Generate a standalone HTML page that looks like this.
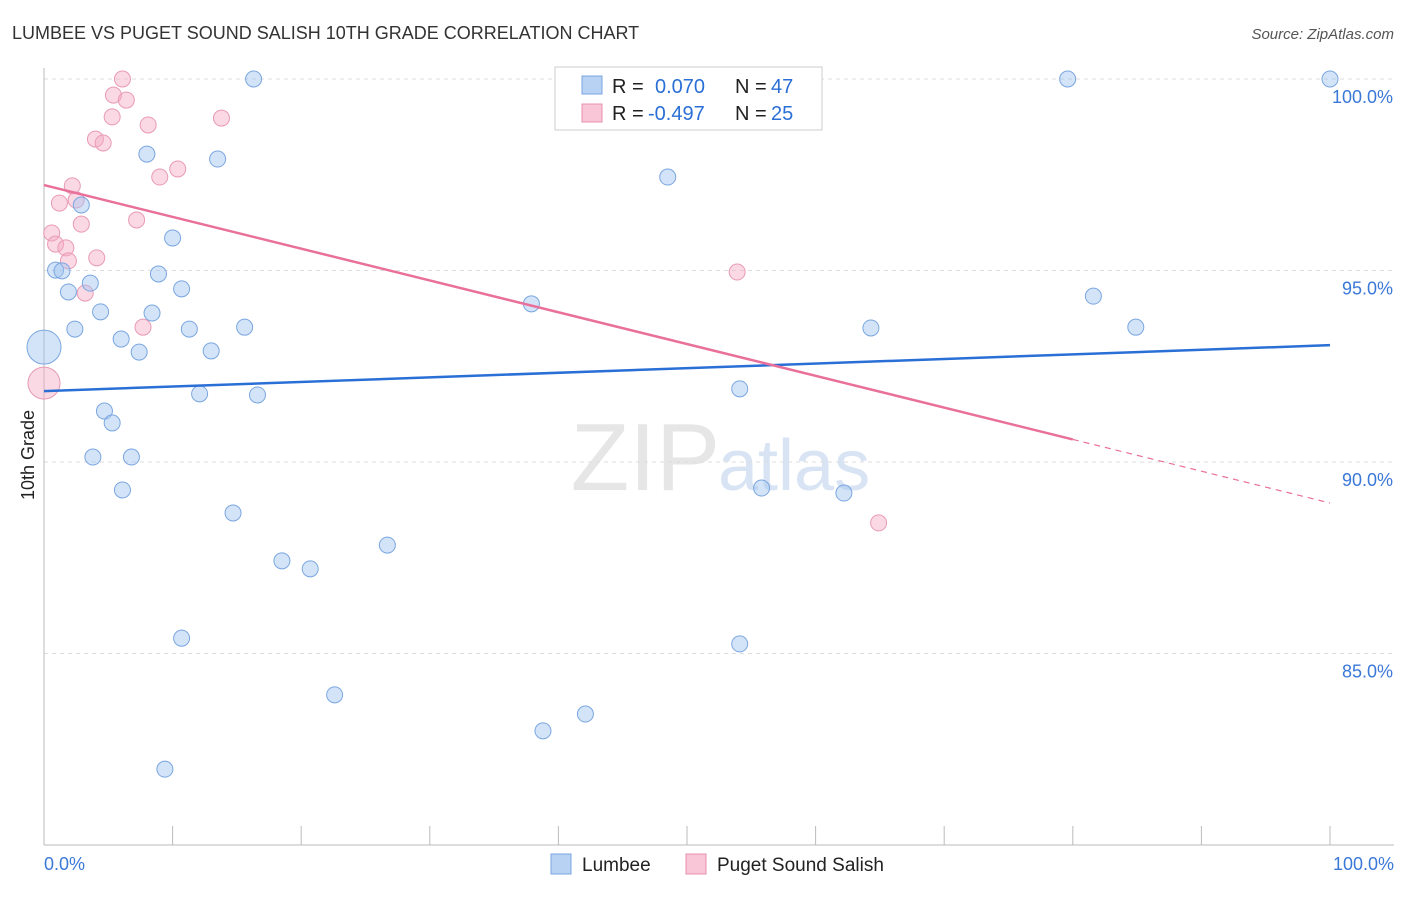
<!DOCTYPE html>
<html><head><meta charset="utf-8"><style>
body{margin:0;background:#fff;font-family:"Liberation Sans",sans-serif}
svg text{font-family:"Liberation Sans",sans-serif}
</style></head><body>
<svg id="c" width="1406" height="892">
<text x="12" y="39" font-size="18" fill="#333">LUMBEE VS PUGET SOUND SALISH 10TH GRADE CORRELATION CHART</text>
<text x="1394" y="39" font-size="15" fill="#555" font-style="italic" text-anchor="end">Source: ZipAtlas.com</text>
<text x="720" y="490" font-size="96" fill="#e6e6e6" text-anchor="end" font-family="Liberation Serif">ZIP</text>
<text x="718" y="490" font-size="72" fill="#d8e4f4">atlas</text>
<text transform="translate(34,455) rotate(-90)" font-size="18" fill="#222" text-anchor="middle">10th Grade</text>
<g id="grid"></g><g id="pts"></g><g id="lines"></g>
<g>
<rect x="555" y="67" width="267" height="63" fill="#fff" stroke="#ccc"/>
<rect x="582" y="76" width="20" height="18" fill="#b8d2f4" stroke="#7aa6e0"/>
<text x="612" y="93" font-size="20" fill="#222">R = </text><text x="655" y="93" font-size="20" fill="#2a6fd6">0.070</text>
<text x="735" y="93" font-size="20" fill="#222">N = </text><text x="771" y="93" font-size="20" fill="#2a6fd6">47</text>
<rect x="582" y="104" width="20" height="18" fill="#f8c6d6" stroke="#e890ad"/>
<text x="612" y="120" font-size="20" fill="#222">R = </text><text x="648" y="120" font-size="20" fill="#2a6fd6">-0.497</text>
<text x="735" y="120" font-size="20" fill="#222">N = </text><text x="771" y="120" font-size="20" fill="#2a6fd6">25</text>
</g>
<g><rect x="551" y="854" width="20" height="20" fill="#b8d2f4" stroke="#7aa6e0"/><text x="582" y="871" font-size="19" fill="#222">Lumbee</text></g>
<g><rect x="686" y="854" width="20" height="20" fill="#f8c6d6" stroke="#e890ad"/><text x="717" y="871" font-size="19" fill="#222">Puget Sound Salish</text></g>
</svg>
<script>
const xTicks=[0,10,20,30,40,50,60,70,80,90,100];
const yTicks=[100,95,90,85];
const lumbeeX=[16.3,79.6,100,8.0,13.5,48.5,2.9,10.0,0.9,1.4,8.9,3.6,1.9,10.7,37.9,81.6,4.4,8.4,2.4,11.3,15.6,64.3,84.9,6.0,0,7.4,13.0,54.1,12.1,16.6,4.7,5.3,3.8,6.8,6.1,55.8,62.2,14.7,26.7,18.5,20.7,10.7,54.1,22.6,42.1,38.8,9.4];
const lumbeeY=[100,100,100,98.04,97.91,97.44,96.71,95.85,95.01,94.99,94.91,94.67,94.44,94.52,94.13,94.33,93.92,93.89,93.47,93.47,93.52,93.5,93.52,93.21,93.0,92.87,92.9,91.91,91.78,91.75,91.33,91.02,90.13,90.13,89.27,89.32,89.19,88.67,87.83,87.42,87.21,85.4,85.25,83.92,83.42,82.98,81.98];
const salishX=[6.1,5.4,6.4,5.3,13.8,8.1,4.0,4.6,10.4,9.0,2.2,1.2,2.5,7.2,2.9,0.6,0.9,1.7,4.1,1.9,53.9,3.2,7.7,0,64.9];
const salishY=[100,99.58,99.45,99.01,98.98,98.8,98.43,98.33,97.65,97.44,97.21,96.76,96.84,96.32,96.21,95.98,95.69,95.59,95.33,95.25,94.96,94.41,93.52,92.06,88.41];
const lumbeeFit=[91.85,93.05];
const salishFit=[97.23,88.93];
const X=v=>44+v*12.86, Y=v=>79+(100-v)*38.3;
const NS="http://www.w3.org/2000/svg";
function mk(t,a,p){const e=document.createElementNS(NS,t);for(const k in a)e.setAttribute(k,a[k]);p.appendChild(e);return e;}
const g=document.getElementById('grid');
yTicks.forEach(t=>{
 const l=mk('line',{x1:44,x2:1394,y1:Y(t),y2:Y(t),stroke:'#ddd','stroke-dasharray':'4,4'},g);
 
 
 const tx=mk('text',{x:1393,y:Y(t)+24,'font-size':18,fill:'#3b78d8','text-anchor':'end'},g);tx.textContent=t.toFixed(1)+'%';
 
 
});
mk('line',{x1:44,x2:44,y1:68,y2:845,stroke:'#bbb'},g);
mk('line',{x1:44,x2:1394,y1:845,y2:845,stroke:'#bbb'},g);
xTicks.forEach(t=>{const l=mk('line',{x1:X(t),x2:X(t),y1:826,y2:845,stroke:'#bbb'},g);
 
 });
const a=mk('text',{x:44,y:870,'font-size':18,fill:'#3b78d8'},g);a.textContent='0.0%';


const b=mk('text',{x:1394,y:870,'font-size':18,fill:'#3b78d8','text-anchor':'end'},g);b.textContent='100.0%';


const p=document.getElementById('pts');
salishX.forEach((x,i)=>{const c=mk('circle',{cx:X(x),cy:Y(salishY[i]),r:x===0?16:8,fill:'rgba(245,170,196,0.45)',stroke:'#e99ab5','stroke-width':1},p);
 
 });
lumbeeX.forEach((x,i)=>{const c=mk('circle',{cx:X(x),cy:Y(lumbeeY[i]),r:x===0?17:8,fill:'rgba(160,195,240,0.45)',stroke:'#7aa6e0','stroke-width':1},p);
 
 });
const L=document.getElementById('lines');
const l1=mk('line',{x1:X(0),y1:Y(lumbeeFit[0]),x2:X(100),y2:Y(lumbeeFit[1]),stroke:'#2a6fd6','stroke-width':2.5},L);


const sAt=v=>salishFit[0]+(salishFit[1]-salishFit[0])*v/100;
const l2=mk('line',{x1:X(0),y1:Y(sAt(0)),x2:X(80),y2:Y(sAt(80)),stroke:'#e8709a','stroke-width':2.5},L);


const l3=mk('line',{x1:X(80),y1:Y(sAt(80)),x2:X(100),y2:Y(sAt(100)),stroke:'#e8709a','stroke-width':1.2,'stroke-dasharray':'6,5'},L);


</script>
</body></html>
